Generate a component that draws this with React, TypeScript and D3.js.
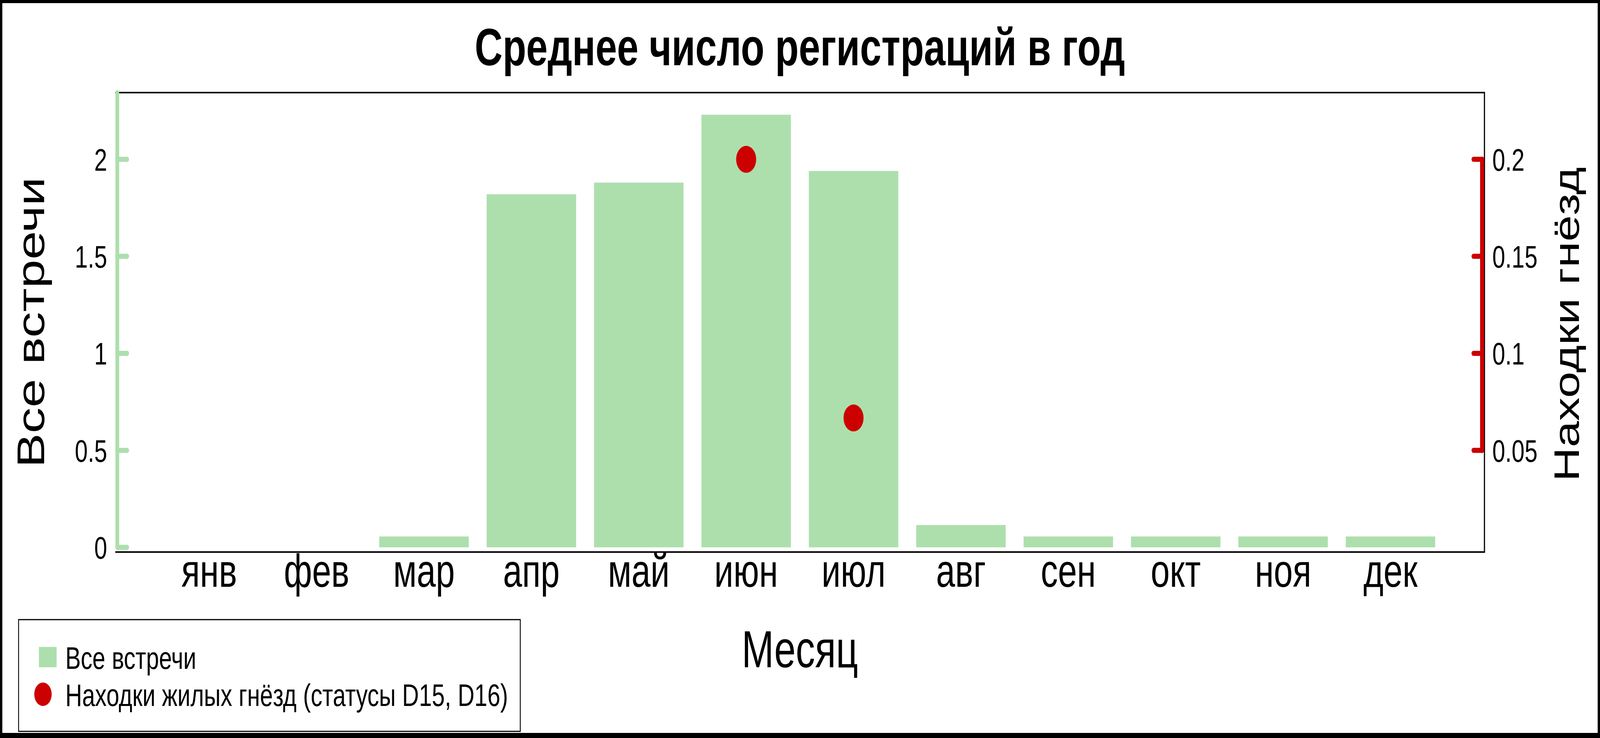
import React from 'react';
import * as d3 from 'd3';

// --- Data ---
const months = ['янв', 'фев', 'мар', 'апр', 'май', 'июн', 'июл', 'авг', 'сен', 'окт', 'ноя', 'дек'];
const allRecords = [0, 0, 0.056, 1.82, 1.88, 2.23, 1.94, 0.115, 0.056, 0.056, 0.056, 0.056];
const nestMonths = ['июн', 'июл'];
const nestValues = [0.2, 0.0667];
const leftTicks = [0, 0.5, 1, 1.5, 2];
const rightTicks = [0.05, 0.1, 0.15, 0.2];

const W = 5511;
const H = 1889;
const FONT = '"Liberation Sans", Arial, Helvetica, sans-serif';
const GREEN = '#addfad';
const RED = '#cc0000';

const plot = { left: 397, right: 5113, top: 237, bottom: 1413, zeroY: 1401 };

const App: React.FC = () => {
    // month index 1..12, MATLAB-like xlim
    const x = d3.scaleLinear().domain([0.125, 12.875]).range([plot.left, plot.right]);
    const yL = d3.scaleLinear().domain([0, 2.344]).range([plot.zeroY, plot.top]);
    const yR = d3.scaleLinear().domain([0, 0.2344]).range([plot.zeroY, plot.top]);
    const barW = x(0.833) - x(0);
    const midX = (plot.left + plot.right) / 2;
    const midY = (plot.top + plot.bottom) / 2;
    const greenAxisX = plot.left + 7;
    const redAxisX = plot.right - 8;

    return (
        <>
            <style>{'html,body{margin:0;padding:0;overflow:hidden}'}</style>
            {/* the svg fills the whole window, whatever size the window really has */}
            <svg viewBox={`0 0 ${W} ${H}`} preserveAspectRatio="none"
                style={{ display: 'block', width: '100vw', height: '100vh', fontFamily: FONT }}>
                <rect x={0} y={0} width={W} height={H} fill="#fff" />

                {/* title */}
                <text x={midX} y={167} textAnchor="middle" fontSize={133} fontWeight="bold" fill="#000">
                    Среднее число регистраций в год
                </text>

                {/* bars */}
                {allRecords.map((v, i) => (
                    v > 0 ? (
                        <rect key={months[i]} x={x(i + 1) - barW / 2} y={yL(v)} width={barW}
                            height={yL(0) - yL(v)} fill={GREEN} />
                    ) : null
                ))}

                {/* frame */}
                <line x1={plot.left} x2={plot.right} y1={plot.top} y2={plot.top} stroke="#000" strokeWidth={4} />
                <line x1={plot.left} x2={plot.right + 2} y1={plot.bottom} y2={plot.bottom} stroke="#000" strokeWidth={4} />
                <line x1={plot.right} x2={plot.right} y1={plot.top - 2} y2={plot.bottom} stroke="#000" strokeWidth={4} />

                {/* left axis */}
                <line x1={greenAxisX} x2={greenAxisX} y1={plot.top} y2={yL(0)} stroke={GREEN}
                    strokeWidth={13} strokeLinecap="round" />
                {leftTicks.map(t => (
                    <g key={`l${t}`}>
                        <line x1={greenAxisX} x2={greenAxisX + 34} y1={yL(t)} y2={yL(t)} stroke={GREEN}
                            strokeWidth={13} strokeLinecap="round" />
                        <text x={369} y={yL(t) + 29} textAnchor="end" fontSize={80} fill="#000">{String(t)}</text>
                    </g>
                ))}

                {/* right axis */}
                <line x1={redAxisX} x2={redAxisX} y1={yR(0.2)} y2={yR(0.05)} stroke={RED}
                    strokeWidth={14} strokeLinecap="round" />
                {rightTicks.map(t => (
                    <g key={`r${t}`}>
                        <line x1={redAxisX} x2={redAxisX - 30} y1={yR(t)} y2={yR(t)} stroke={RED}
                            strokeWidth={13} strokeLinecap="round" />
                        <text x={5140} y={yR(t) + 29} textAnchor="start" fontSize={80} fill="#000">{String(t)}</text>
                    </g>
                ))}

                {/* nest finds */}
                {nestValues.map((v, i) => (
                    <circle key={nestMonths[i]} cx={x(months.indexOf(nestMonths[i]) + 1)} cy={yR(v)} r={34.5} fill={RED} />
                ))}

                {/* month labels */}
                {months.map((m, i) => (
                    <text key={m} x={x(i + 1)} y={1502} textAnchor="middle" fontSize={118} fill="#000">{m}</text>
                ))}

                {/* axis titles */}
                <text x={midX} y={1708} textAnchor="middle" fontSize={133} fill="#000">Месяц</text>
                <text transform={`translate(152, ${midY}) rotate(-90)`} textAnchor="middle" fontSize={132} fill="#000">
                    Все встречи
                </text>
                <text transform={`translate(5439, ${midY + 5}) rotate(-90)`} textAnchor="middle" fontSize={121} fill="#000">
                    Находки гнёзд
                </text>

                {/* legend */}
                <rect x={64} y={1586} width={1728} height={286} fill="#fff" stroke="#000" strokeWidth={3} />
                <rect x={134} y={1656} width={61} height={52} fill={GREEN} />
                <text x={225} y={1712} fontSize={80} fill="#000">Все встречи</text>
                <circle cx={148} cy={1777} r={30} fill={RED} />
                <text x={225} y={1807} fontSize={80} fill="#000">Находки жилых гнёзд (статусы D15, D16)</text>

                {/* outer border */}
                <rect x={4} y={4} width={W - 8} height={H - 8} fill="none" stroke="#000" strokeWidth={8} />
                <rect x={0} y={1876} width={W} height={13} fill="#000" />
            </svg>
        </>
    );
};

export default App;
